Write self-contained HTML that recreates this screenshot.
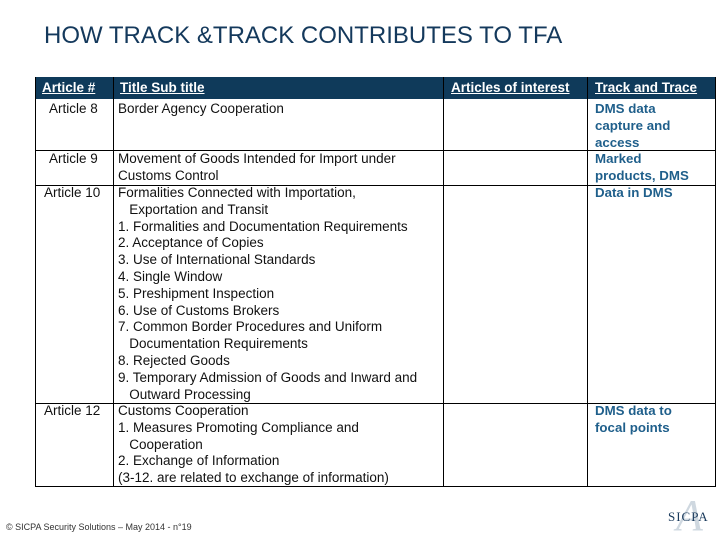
<!DOCTYPE html>
<html><head><meta charset="utf-8"><style>
body{margin:0;width:720px;height:540px;background:#fff;position:relative;overflow:hidden;font-family:"Liberation Sans",Arial,sans-serif}
.a{position:absolute;white-space:nowrap}
.t{font-size:13.5px;color:#111;line-height:16.8px}
.h{font-size:13.5px;color:#fff;font-weight:bold;text-decoration:underline}
.b{font-size:13.3px;color:#1f5f8b;font-weight:bold;line-height:16.8px}
.vl{position:absolute;width:1px;background:#000;top:77px;height:410px}
.hl{position:absolute;height:1px;background:#000;left:35px;width:681px}
</style></head><body>
<div class="a" style="left:44px;top:22px;font-size:24px;color:#14395c">HOW TRACK &amp;TRACK CONTRIBUTES TO TFA</div>
<div>
<div style="position:absolute;left:35px;top:77px;width:681px;height:22px;background:#0f3a5a"></div>
<div class="a h" style="left:42px;top:80px">Article #</div>
<div class="a h" style="left:120px;top:80px">Title Sub title</div>
<div class="a h" style="left:451px;top:80px">Articles of interest</div>
<div class="a h" style="left:595px;top:80px">Track and Trace</div>
<div class="vl" style="left:35px"></div><div class="vl" style="left:113px"></div><div class="vl" style="left:443px"></div><div class="vl" style="left:587px"></div><div class="vl" style="left:715px"></div>
<div class="hl" style="top:150px"></div><div class="hl" style="top:185px"></div><div class="hl" style="top:403px"></div><div class="hl" style="top:486px"></div>
<div class="a t" style="left:49px;top:101px">Article 8</div>
<div class="a t" style="left:49px;top:151px">Article 9</div>
<div class="a t" style="left:44px;top:185px">Article 10</div>
<div class="a t" style="left:44px;top:403px">Article 12</div>
<div class="a t" style="left:118px;top:101px">Border Agency Cooperation</div>
<div class="a t" style="left:118px;top:151px">Movement of Goods Intended for Import under<br>Customs Control</div>
<div class="a t" style="left:118px;top:185px">Formalities Connected with Importation,<br>&nbsp;&nbsp;&nbsp;Exportation and Transit<br>1. Formalities and Documentation Requirements<br>2. Acceptance of Copies<br>3. Use of International Standards<br>4. Single Window<br>5. Preshipment Inspection<br>6. Use of Customs Brokers<br>7. Common Border Procedures and Uniform<br>&nbsp;&nbsp;&nbsp;Documentation Requirements<br>8. Rejected Goods<br>9. Temporary Admission of Goods and Inward and<br>&nbsp;&nbsp;&nbsp;Outward Processing</div>
<div class="a t" style="left:118px;top:403px">Customs Cooperation<br>1. Measures Promoting Compliance and<br>&nbsp;&nbsp;&nbsp;Cooperation<br>2. Exchange of Information<br>(3-12. are related to exchange of information)</div>
<div class="a b" style="left:595px;top:101px">DMS data<br>capture and<br>access<br>Marked<br>products, DMS<br>Data in DMS</div>
<div class="a b" style="left:595px;top:403px">DMS data to<br>focal points</div>
</div>
<div class="a" style="left:6px;top:522px;font-size:9px;color:#333">© SICPA Security Solutions – May 2014 - n°19</div>
<div class="a" style="left:676px;top:490px;font-size:44px;color:#cfd8e0;font-family:'Liberation Serif',serif;font-style:italic">A</div>
<div class="a" style="left:668px;top:509px;font-size:13px;color:#1a3a5c;font-family:'Liberation Serif',serif;letter-spacing:1px">SICPA</div>
</body></html>
